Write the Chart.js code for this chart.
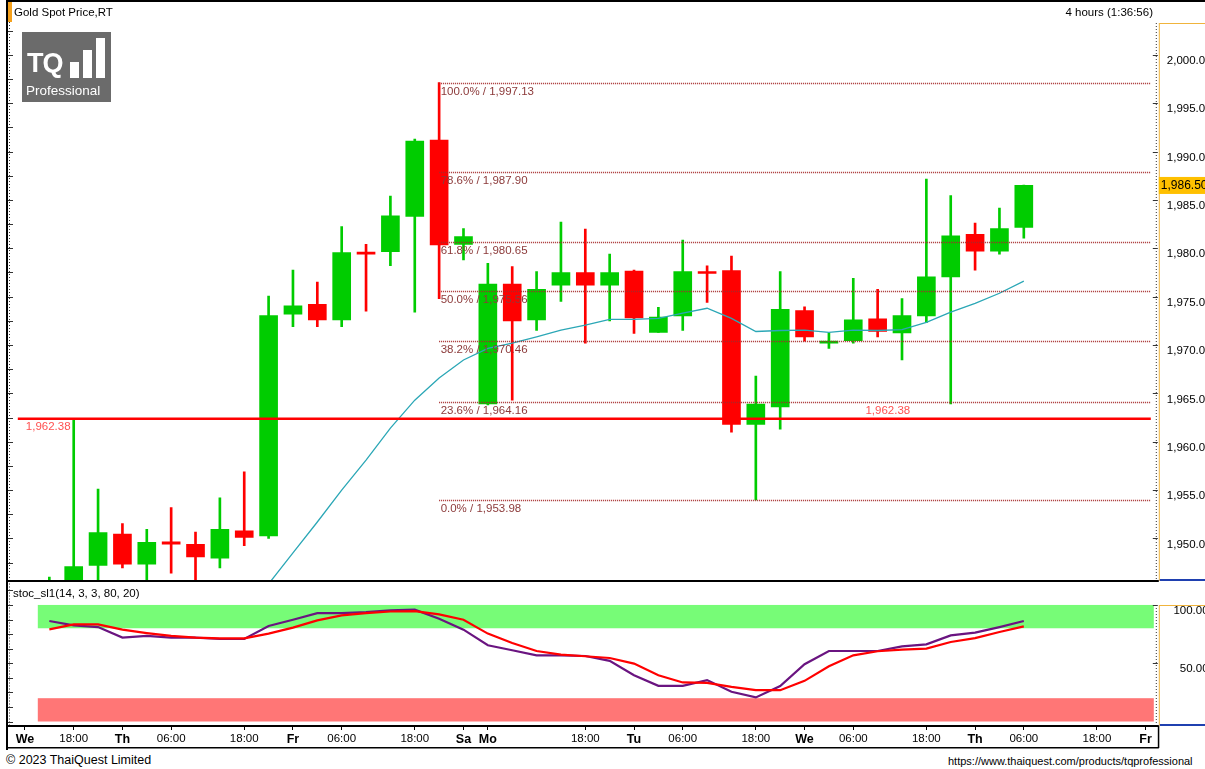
<!DOCTYPE html>
<html>
<head>
<meta charset="utf-8">
<title>Gold Spot Price,RT</title>
<script src="https://cdn.jsdelivr.net/npm/chart.js@4.4.1/dist/chart.umd.min.js"></script>
<style>
  html, body { margin: 0; padding: 0; background: #fff; }
  body { width: 1205px; height: 769px; position: relative; overflow: hidden;
         font-family: "Liberation Sans", Arial, sans-serif; color: #000; }
  .box { position: absolute; }
  #mainWrap { left: 0; top: 0; width: 1215px; height: 582px; }
  #stochWrap { left: 0; top: 582px; width: 1215px; height: 170px; }
  #topLine { left: 7px; top: 0; width: 1198px; height: 2px; background: #000; }
  #leftLine { left: 6px; top: 0; width: 2px; height: 750px; background: #000; }
  #mark { left: 8px; top: 2px; width: 4px; height: 20px; background: #f5a11c; }
  #title { left: 14px; top: 6px; font-size: 11.5px; white-space: nowrap; }
  #period { right: 52px; top: 6px; font-size: 11.5px; white-space: nowrap; }
  #stochTitle { left: 13px; top: 587px; font-size: 11.5px; white-space: nowrap; }
  #copy { left: 6px; top: 753px; font-size: 12.5px; white-space: nowrap; }
  #url { left: 948px; top: 755px; font-size: 11px; white-space: nowrap; }
  #logo { left: 22px; top: 32px; width: 89px; height: 70px; background: #6b6b6b; }
  #logo .tq { position: absolute; left: 5px; top: 18px; font-size: 27px; font-weight: bold;
              color: #fff; letter-spacing: -1px; line-height: 27px; }
  #logo .bar { position: absolute; background: #fff; }
  #logo .pro { position: absolute; left: 4px; top: 51px; font-size: 13.5px; color: #fff; }
</style>
</head>
<body>
<div id="mainWrap" class="box"><canvas id="mainChart"></canvas></div>
<div id="stochWrap" class="box"><canvas id="stochChart"></canvas></div>
<div id="topLine" class="box"></div>
<div id="leftLine" class="box"></div>
<div id="mark" class="box"></div>
<div id="title" class="box">Gold Spot Price,RT</div>
<div id="period" class="box">4 hours (1:36:56)</div>
<div id="logo" class="box">
  <div class="tq">TQ</div>
  <div class="bar" style="left:48px;top:30px;width:9px;height:16px"></div>
  <div class="bar" style="left:61px;top:18px;width:9px;height:28px"></div>
  <div class="bar" style="left:74px;top:6px;width:9px;height:40px"></div>
  <div class="pro">Professional</div>
</div>
<div id="stochTitle" class="box">stoc_sl1(14, 3, 3, 80, 20)</div>
<div id="copy" class="box">© 2023 ThaiQuest Limited</div>
<div id="url" class="box">https://www.thaiquest.com/products/tqprofessional</div>

<script>
// time axis, one slot per 4h candle
const timeLabels = ['We', '', '18:00', '', 'Th', '', '06:00', '', '', '18:00',
                    '', 'Fr', '', '06:00', '', '', '18:00', '', 'Sa', 'Mo',
                    '', '', '', '18:00', '', 'Tu', '', '06:00', '', '',
                    '18:00', '', 'We', '', '06:00', '', '', '18:00', '', 'Th',
                    '', '06:00', '', '', '18:00', '', 'Fr'];
const dayNames = ['We', 'Th', 'Fr', 'Sa', 'Mo', 'Tu'];

// OHLC
const openP = [null, 1941, 1943, 1947.2, 1950.45, 1947.35, 1949.65, 1949.4, 1947.95, 1950.8,
               1950.25, 1973.2, 1974.2, 1972.6, 1979.6, 1979.65, 1983.3, 1991.2, 1980.4, 1963.9,
               1976.3, 1972.6, 1976.2, 1977.5, 1976.2, 1977.65, 1971.3, 1973.0, 1977.6, 1977.7,
               1961.8, 1963.6, 1973.55, 1970.2, 1970.45, 1972.7, 1971.25, 1973.0, 1977.05, 1981.45,
               1979.7, 1982.15, null, null, null, null, null];
const highP = [null, 1946.0, 1962.4, 1955.1, 1951.55, 1950.95, 1953.2, 1950.65, 1954.2, 1956.9,
               1975.05, 1977.75, 1976.5, 1982.25, 1980.4, 1985.4, 1991.3, 1997.13, 1982.05, 1978.45,
               1978.1, 1977.6, 1982.7, 1982.0, 1979.4, 1977.75, 1973.9, 1980.85, 1978.2, 1979.2,
               1966.8, 1977.6, 1973.95, 1971.2, 1976.9, 1975.75, 1974.8, 1987.15, 1985.45, 1982.6,
               1984.15, 1986.55, null, null, null, null, null];
const lowP = [null, 1938, 1941, 1945.0, 1946.95, 1945.75, 1946.4, 1944.5, 1946.95, 1949.25,
              1950.0, 1971.9, 1971.9, 1971.9, 1973.5, 1978.2, 1973.4, 1974.8, 1978.8, 1963.8,
              1964.3, 1971.5, 1974.5, 1970.2, 1972.5, 1971.2, 1971.3, 1971.5, 1974.4, 1961.0,
              1953.98, 1961.3, 1970.4, 1969.65, 1970.2, 1970.85, 1968.45, 1972.3, 1963.9, 1977.75,
              1979.4, 1981.05, null, null, null, null, null];
const closeP = [null, 1945.0, 1947.1, 1950.6, 1947.35, 1949.6, 1949.4, 1948.1, 1950.95, 1950.1,
                1973.05, 1974.05, 1972.6, 1979.55, 1979.4, 1983.35, 1991.1, 1980.35, 1981.2, 1976.3,
                1972.5, 1975.75, 1977.5, 1976.2, 1977.5, 1972.8, 1972.9, 1977.6, 1977.4, 1961.8,
                1963.9, 1973.7, 1970.85, 1970.4, 1972.6, 1971.4, 1973.05, 1977.05, 1981.3, 1979.7,
                1982.05, 1986.5, null, null, null, null, null];

// moving average
const maLine = [null, null, null, null, null, null, null, null, null, 1942.0,
                1945.3, 1948.5, 1951.7, 1955.0, 1958.1, 1961.4, 1964.3, 1966.6, 1968.45, 1969.65,
                1970.2, 1970.85, 1971.55, 1972.05, 1972.65, 1972.65, 1972.75, 1973.3, 1973.8, 1972.75,
                1971.4, 1971.5, 1971.55, 1971.3, 1971.55, 1971.5, 1971.6, 1972.35, 1973.4, 1974.3,
                1975.35, 1976.6, null, null, null, null, null];

// stochastic
const stochK = [null, 86.2, 82.5, 81.0, 72.0, 73.4, 72.0, 72.0, 70.8, 70.8,
                81.9, 87.3, 93.0, 93.0, 93.9, 95.3, 95.9, 88.2, 78.8, 65.4,
                61.1, 56.8, 56.8, 56.2, 52.0, 39.7, 30.6, 30.6, 35.5, 25.5,
                20.7, 30.5, 49.1, 60.5, 60.5, 60.5, 64.5, 66.2, 73.9, 76.2,
                81.0, 86.2, null, null, null, null, null];
const stochD = [null, 79.1, 83.3, 83.3, 78.8, 75.9, 73.4, 72.0, 71.4, 71.4,
                75.4, 80.5, 86.8, 91.0, 93.0, 94.4, 94.7, 91.9, 87.3, 75.4,
                67.4, 60.5, 57.4, 56.0, 54.5, 49.7, 39.7, 33.5, 33.2, 29.7,
                26.9, 26.9, 34.9, 47.4, 56.8, 60.3, 61.7, 62.6, 68.2, 71.6,
                76.8, 81.6, null, null, null, null, null];

const priceTicks = [1950, 1955, 1960, 1965, 1970, 1975, 1980, 1985, 1990, 1995, 2000];
const stochTicks = [50, 100];
const fibPct = [100.0, 78.6, 61.8, 50.0, 38.2, 23.6, 0.0];
const fibPrice = [1997.13, 1987.90, 1980.65, 1975.56, 1970.46, 1964.16, 1953.98];
const fibStart = 17;          // swing-high candle
const supportPrice = 1962.38;
const lastPrice = 1986.50;
const overbought = [80, 100];
const oversold = [0, 20];

const UP = '#00cc00', DOWN = '#ff0000';
const FONT = '"Liberation Sans", Arial, sans-serif';
Chart.defaults.font.family = FONT;
Chart.defaults.font.size = 11.5;
Chart.defaults.color = '#000';

const money = v => v.toLocaleString('en-US', { minimumFractionDigits: 2, maximumFractionDigits: 2 });
const candleColor = openP.map((o, i) => o == null ? UP : (closeP[i] >= o ? UP : DOWN));
const bodies = openP.map((o, i) => o == null ? null : [Math.min(o, closeP[i]), Math.max(o, closeP[i])]);
const wicks = openP.map((o, i) => o == null ? null : [lowP[i], highP[i]]);

// keep tick labels from pushing the plot area around
const noPad = s => { s.paddingTop = 0; s.paddingBottom = 0; s.paddingLeft = 0; s.paddingRight = 0; };

function seg(ctx, x0, y0, x1, y1) {
  ctx.beginPath(); ctx.moveTo(x0, y0); ctx.lineTo(x1, y1); ctx.stroke();
}

// axis frame bits shared by both panels
function drawFrame(chart, axisTop, leftStep) {
  const { ctx, chartArea: a, scales: { y } } = chart;
  ctx.save();
  ctx.strokeStyle = '#f0b43c';
  ctx.lineWidth = 1;
  seg(ctx, a.right + 1.5, axisTop, a.right + 1.5, a.bottom);
  seg(ctx, a.right + 1.5, axisTop + 0.5, chart.width, axisTop + 0.5);
  ctx.strokeStyle = '#333';
  ctx.setLineDash([1, 2]);
  seg(ctx, a.right - 1.5, axisTop, a.right - 1.5, a.bottom);
  seg(ctx, 9.5, a.top, 9.5, a.bottom);
  ctx.setLineDash([]);
  y.ticks.forEach(t => {
    const py = Math.round(y.getPixelForValue(t.value)) + 0.5;
    seg(ctx, a.right - 5, py, a.right, py);
  });
  for (let v = Math.ceil(y.min / leftStep) * leftStep; v <= y.max; v += leftStep) {
    const py = Math.round(y.getPixelForValue(v)) + 0.5;
    seg(ctx, 8, py, 13, py);
  }
  ctx.fillStyle = '#000';
  ctx.fillRect(7, a.bottom - 1, a.right - 6, 2);
  ctx.fillStyle = '#1f40b0';
  ctx.fillRect(a.right + 2, a.bottom - 2, chart.width, 2);
  ctx.restore();
}

const mainDecor = {
  id: 'mainDecor',
  afterDatasetsDraw(chart) {
    const { ctx, chartArea: a, scales: { x, y } } = chart;
    ctx.save();
    const fx = x.getPixelForValue(fibStart);
    const fEnd = a.right - 7;
    ctx.font = '11.5px ' + FONT;
    ctx.textBaseline = 'top';
    fibPrice.forEach((p, i) => {
      const py = Math.round(y.getPixelForValue(p)) + 0.5;
      ctx.strokeStyle = '#a52a2a';
      ctx.lineWidth = 1.5;
      ctx.setLineDash([1, 1]);
      seg(ctx, fx, py, fEnd, py);
      ctx.setLineDash([]);
      ctx.fillStyle = '#8c3a3a';
      ctx.fillText(fibPct[i].toFixed(1) + '% / ' + money(p), fx + 1.5, py + 3);
    });
    const sy = y.getPixelForValue(supportPrice);
    ctx.strokeStyle = '#ff0000';
    ctx.lineWidth = 2.5;
    seg(ctx, a.left + 5, sy, fEnd, sy);
    ctx.fillStyle = '#ff5050';
    ctx.fillText(money(supportPrice), a.left + 13, sy + 2);
    ctx.textBaseline = 'bottom';
    ctx.textAlign = 'center';
    ctx.fillText(money(supportPrice), a.left + 875, sy - 2);
    ctx.restore();
  },
  afterDraw(chart) {
    const { ctx, chartArea: a, scales: { y } } = chart;
    drawFrame(chart, a.top + 1, 2.5);
    const ty = y.getPixelForValue(lastPrice);
    ctx.save();
    ctx.fillStyle = '#ffc000';
    ctx.fillRect(a.right + 1, ty - 8.5, chart.width - a.right, 17);
    ctx.fillStyle = '#000';
    ctx.font = '12px ' + FONT;
    ctx.textBaseline = 'middle';
    ctx.fillText(money(lastPrice), a.right + 3, ty);
    ctx.restore();
  }
};

const stochDecor = {
  id: 'stochDecor',
  beforeDatasetsDraw(chart) {
    const { ctx, chartArea: a, scales: { y } } = chart;
    const bx0 = a.left + 25, bx1 = a.right - 4;
    ctx.save();
    [[overbought, '#77fc77'], [oversold, '#ff7676']].forEach(([r, col]) => {
      const y0 = y.getPixelForValue(r[1]), y1 = y.getPixelForValue(r[0]);
      ctx.fillStyle = col;
      ctx.fillRect(bx0, y0, bx1 - bx0, y1 - y0);
    });
    ctx.restore();
  },
  afterDraw(chart) {
    const { ctx, chartArea: a, scales: { y } } = chart;
    drawFrame(chart, Math.round(y.getPixelForValue(100)), 12.5);
    ctx.save();
    ctx.fillStyle = '#000';
    ctx.fillRect(7, a.bottom + 21, a.right - 6, 1.5);
    ctx.fillRect(a.right, a.bottom, 1.5, 22);
    ctx.restore();
  }
};

new Chart(document.getElementById('mainChart'), {
  type: 'bar',
  data: {
    labels: timeLabels,
    datasets: [
      { type: 'line', data: maLine, borderColor: '#2ba7b6', borderWidth: 1.3,
        pointRadius: 0, tension: 0, order: 0 },
      { data: bodies, backgroundColor: candleColor, barThickness: 18, grouped: false, order: 1 },
      { data: wicks, backgroundColor: candleColor, barThickness: 2, grouped: false, order: 2 }
    ]
  },
  options: {
    responsive: true,
    maintainAspectRatio: false,
    animation: false,
    layout: { padding: { left: 12.8, top: 22, right: 0, bottom: 1 } },
    plugins: { legend: { display: false }, tooltip: { enabled: false } },
    scales: {
      x: { display: false, offset: true },
      y: {
        position: 'right',
        min: 1945.6,
        max: 2003.4,
        afterFit: s => { s.width = 57.2; noPad(s); },
        afterBuildTicks: s => { s.ticks = priceTicks.map(v => ({ value: v })); },
        grid: { display: false },
        border: { display: false },
        ticks: { padding: 1, labelOffset: 6, callback: v => money(v) }
      }
    }
  },
  plugins: [mainDecor]
});

new Chart(document.getElementById('stochChart'), {
  type: 'line',
  data: {
    labels: timeLabels,
    datasets: [
      { data: stochD, borderColor: '#ff0000', borderWidth: 2.2, pointRadius: 0, tension: 0 },
      { data: stochK, borderColor: '#6a1480', borderWidth: 2.2, pointRadius: 0, tension: 0 }
    ]
  },
  options: {
    responsive: true,
    maintainAspectRatio: false,
    animation: false,
    layout: { padding: { left: 12.8, top: 1.5, right: 0, bottom: 0 } },
    plugins: { legend: { display: false }, tooltip: { enabled: false } },
    scales: {
      x: {
        offset: true,
        afterFit: s => { s.height = 26; noPad(s); },
        grid: {
          display: true, drawOnChartArea: false, tickLength: 4,
          color: c => timeLabels[c.index] ? '#000' : 'rgba(0,0,0,0)'
        },
        border: { display: false },
        ticks: {
          autoSkip: false, maxRotation: 0, minRotation: 0, padding: 2,
          callback: (v, i) => timeLabels[i],
          font: c => dayNames.includes(timeLabels[c.index])
            ? { size: 12.5, weight: 'bold' } : { size: 11.5, weight: 'normal' }
        }
      },
      y: {
        position: 'right',
        min: -3.85,
        max: 118.4,
        afterFit: s => { s.width = 57.2; noPad(s); },
        afterBuildTicks: s => { s.ticks = stochTicks.map(v => ({ value: v })); },
        grid: { display: false },
        border: { display: false },
        ticks: { crossAlign: 'far', padding: 2, labelOffset: 6, callback: v => v.toFixed(3) }
      }
    }
  },
  plugins: [stochDecor]
});
</script>
</body>
</html>
